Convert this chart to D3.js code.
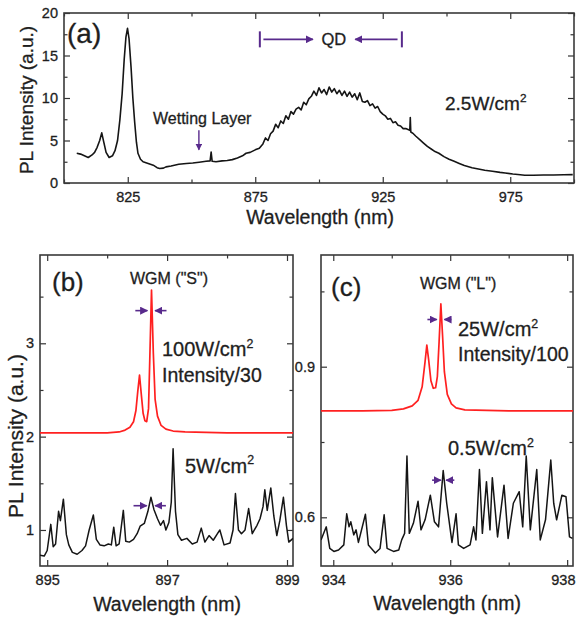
<!DOCTYPE html>
<html>
<head>
<meta charset="utf-8">
<script src="https://cdn.jsdelivr.net/npm/d3@7"></script>
<style>
body { margin: 0; background: #fff; }
text { font-family: "Liberation Sans", Arial, sans-serif; fill: #1e1e1e; stroke: #1e1e1e; stroke-width: 0.3; }
.ax text { font-size: 14.5px; font-family: "Liberation Sans", Arial, sans-serif; fill: #1e1e1e; stroke: #1e1e1e; stroke-width: 0.3; }
.ax line { stroke: #333; stroke-width: 1.2; }
.ax path { display: none; }
</style>
</head>
<body>
<svg id="chart" width="576" height="618"></svg>
<script>
// ---- panel (a): broad PL spectrum at 2.5 W/cm2
var aWave = [805,806.5,808,809.5,811,812,813,814,814.8,815.6,816.5,817.7,819,820,821,821.9,822.8,823.6,824.3,824.9,825.5,826.3,827,827.7,828.4,829,830,831,833,835,836.5,837.5,839,840,842,845,848,850.5,853,855.7,857.3,857.7,858.1,859.6,862,864,866,868,870,871.4,873,875,876.6,878,879,880,881,882,883,884,885,886,887,888,889,890,891,892,893,894,895,896,897,898,899,900,901,902,903,904,905,906,907,908,909,910,911,912,913,914,915,916,917,918,919,920,921,922,923,924,925,926,927,928,929,930,931,932,933,934,935.6,935.8,936,937,938,939.5,941,942.5,944,945.5,947,949,951,953,955,957,960,962.5,965,968,971,973,976,978,980.7,984,988,992,996,999.5];
var aInt = [3.5,3.4,3.2,3.0,3.3,3.6,4.2,5.0,5.9,4.8,3.6,3.0,3.2,3.8,5.0,7.4,10.5,14.5,17.2,18.2,17.0,13.6,10.0,7.2,4.8,3.5,2.8,2.5,2.3,2.1,1.8,1.7,1.75,1.9,2.0,2.2,2.3,2.35,2.45,2.55,2.6,3.65,2.55,2.5,2.6,2.65,2.75,2.95,3.2,3.5,3.6,3.9,4.1,4.6,5.3,5.0,5.8,6.1,6.9,6.5,7.3,7.0,7.9,7.5,8.4,8.1,8.7,8.9,8.6,9.5,9.2,9.9,10.2,10.8,10.3,11.2,10.6,11.0,10.4,11.3,10.7,11.1,10.5,10.9,10.3,10.8,10.2,10.7,10.1,10.5,9.8,10.6,9.6,9.5,9.7,9.1,9.3,8.8,9.0,8.4,8.1,7.9,7.5,7.6,7.1,7.2,6.8,6.7,6.4,6.4,6.2,7.7,6.0,5.8,5.5,5.1,4.7,4.3,4.0,3.7,3.5,3.1,2.8,2.55,2.3,2.05,1.8,1.65,1.5,1.38,1.25,1.18,1.05,1.0,0.92,0.92,0.94,0.95,0.97,0.98];
var aXTicks = [825, 875, 925, 975];
var aXMinor = [800, 850, 900, 950, 1000];
var aYTicks = [0, 5, 10, 15, 20];
var aYMinor = [2.5, 7.5, 12.5, 17.5];

// ---- panel (b): WGM "S"
var bRedWave = [894.88,895.5,896.0,896.2,896.3,896.38,896.44,896.48,896.51,896.54,896.57,896.6,896.63,896.66,896.69,896.71,896.74,896.77,896.8,896.84,896.9,896.98,897.1,897.3,898,899.1];
var bRedInt = [2.04,2.04,2.04,2.05,2.07,2.1,2.16,2.28,2.48,2.66,2.45,2.25,2.17,2.16,2.3,2.8,3.57,2.9,2.4,2.22,2.12,2.08,2.06,2.05,2.04,2.04];
var bBlackWave = [894.88,894.95,895.0,895.06,895.1,895.14,895.19,895.22,895.27,895.32,895.36,895.42,895.5,895.58,895.64,895.7,895.77,895.82,895.88,895.95,896.02,896.07,896.11,896.15,896.2,896.27,896.31,896.37,896.44,896.5,896.55,896.62,896.68,896.73,896.78,896.84,896.89,896.94,896.98,897.03,897.07,897.1,897.14,897.18,897.24,897.33,897.42,897.5,897.57,897.63,897.7,897.77,897.84,897.88,897.95,898.05,898.1,898.14,898.19,898.24,898.3,898.36,898.42,898.5,898.55,898.6,898.63,898.67,898.73,898.78,898.83,898.88,898.94,898.99,899.03,899.1];
var bBlackInt = [0.73,0.72,0.78,1.06,0.82,0.85,1.2,1.1,1.33,0.95,0.84,0.76,0.74,0.78,0.83,1.0,1.16,0.9,0.84,0.83,0.85,0.84,1.03,0.83,0.85,1.21,0.88,0.87,0.9,0.96,1.04,1.07,1.2,1.35,1.22,1.12,1.05,1.1,1.0,1.08,1.3,1.87,1.2,0.95,0.89,0.91,0.85,0.87,1.02,0.87,0.94,0.89,0.96,1.0,0.84,0.86,1.0,1.39,1.0,0.96,1.0,1.23,0.96,1.05,1.12,1.25,1.43,1.21,1.45,1.15,0.94,1.1,1.35,1.05,0.87,0.91];
var bXTicks = [895, 897, 899];
var bXMinor = [896, 898];
var bYTicks = [1, 2, 3];
var bYMinor = [1.5, 2.5, 3.5];

// ---- panel (c): WGM "L"
var cRedWave = [933.79,934.5,935,935.2,935.35,935.45,935.52,935.57,935.6,935.63,935.67,935.71,935.75,935.78,935.81,935.84,935.87,935.9,935.95,936.02,936.1,936.25,937,938.1];
var cRedInt = [0.812,0.812,0.813,0.816,0.822,0.833,0.86,0.91,0.943,0.915,0.872,0.857,0.858,0.88,0.95,1.025,0.96,0.89,0.845,0.826,0.818,0.814,0.812,0.812];
var cBlackWave = [933.79,933.88,933.94,934.01,934.09,934.18,934.23,934.27,934.3,934.35,934.39,934.43,934.55,934.6,934.72,934.8,934.87,934.92,935.03,935.12,935.17,935.22,935.26,935.3,935.37,935.45,935.5,935.57,935.66,935.73,935.8,935.88,935.94,936.03,936.1,936.14,936.23,936.34,936.4,936.44,936.5,936.55,936.62,936.68,936.72,936.81,936.92,936.99,937.08,937.18,937.24,937.3,937.37,937.48,937.54,937.63,937.72,937.77,937.82,937.91,937.98,938.04,938.09];
var cBlackInt = [0.555,0.581,0.538,0.532,0.535,0.545,0.607,0.581,0.591,0.565,0.575,0.55,0.606,0.545,0.529,0.538,0.605,0.538,0.532,0.535,0.555,0.568,0.722,0.568,0.588,0.632,0.575,0.595,0.644,0.591,0.581,0.693,0.628,0.55,0.607,0.545,0.538,0.545,0.581,0.555,0.695,0.568,0.671,0.575,0.679,0.561,0.664,0.558,0.628,0.651,0.581,0.722,0.575,0.695,0.555,0.595,0.714,0.628,0.595,0.644,0.641,0.561,0.558];
var cXTicks = [934, 936, 938];
var cXMinor = [935, 937];
var cYTicks = [0.6, 0.9];
var cYMinor = [0.75, 1.05];

var purple = "#582a8c";
var svg = d3.select("#chart");

svg.append("defs").append("marker")
  .attr("id", "head").attr("viewBox", "0 0 10 10")
  .attr("refX", 9).attr("refY", 5)
  .attr("markerWidth", 5).attr("markerHeight", 5)
  .attr("orient", "auto-start-reverse")
  .append("path").attr("d", "M0,0L10,5L0,10z").attr("fill", purple);

function panel(id, box, xd, yd, xt, xm, yt, ym, yfmt) {
  var w = box.r - box.l, h = box.b - box.t;
  var g = svg.append("g").attr("transform", "translate(" + box.l + "," + box.t + ")");
  var x = d3.scaleLinear().domain(xd).range([0, w]);
  var y = d3.scaleLinear().domain(yd).range([h, 0]);
  g.append("clipPath").attr("id", "clip" + id).append("rect").attr("width", w).attr("height", h);

  var fx = d3.format("d");
  var bottom = g.append("g").attr("class", "ax").attr("transform", "translate(0," + h + ")")
    .call(d3.axisBottom(x).tickValues(xt).tickSize(-6).tickPadding(9).tickFormat(fx));
  g.append("g").attr("class", "ax").attr("transform", "translate(0," + h + ")")
    .call(d3.axisBottom(x).tickValues(xm).tickSize(-3.5).tickFormat(""));
  g.append("g").attr("class", "ax")
    .call(d3.axisTop(x).tickValues(xt).tickSize(-6).tickFormat(""));
  g.append("g").attr("class", "ax")
    .call(d3.axisTop(x).tickValues(xm).tickSize(-3.5).tickFormat(""));
  g.append("g").attr("class", "ax")
    .call(d3.axisLeft(y).tickValues(yt).tickSize(-6).tickPadding(6).tickFormat(yfmt));
  g.append("g").attr("class", "ax")
    .call(d3.axisLeft(y).tickValues(ym).tickSize(-3.5).tickFormat(""));
  g.append("g").attr("class", "ax").attr("transform", "translate(" + w + ",0)")
    .call(d3.axisRight(y).tickValues(yt).tickSize(-6).tickFormat(""));
  g.append("g").attr("class", "ax").attr("transform", "translate(" + w + ",0)")
    .call(d3.axisRight(y).tickValues(ym).tickSize(-3.5).tickFormat(""));

  g.append("rect").attr("width", w).attr("height", h)
    .attr("fill", "none").attr("stroke", "#3a3a3a").attr("stroke-width", 1.6);
  return { g: g, x: x, y: y, w: w, h: h, bottom: bottom };
}

function trace(p, id, wave, inten, color, sw) {
  var line = d3.line().x(function(d) { return p.x(d[0]); }).y(function(d) { return p.y(d[1]); });
  p.g.append("path").datum(d3.zip(wave, inten))
    .attr("clip-path", "url(#clip" + id + ")")
    .attr("fill", "none").attr("stroke", color).attr("stroke-width", sw)
    .attr("stroke-linejoin", "round")
    .attr("d", line);
}

function arrow(p, x0, x1, yv) {
  p.g.append("line")
    .attr("x1", p.x(x0)).attr("x2", p.x(x1)).attr("y1", p.y(yv)).attr("y2", p.y(yv))
    .attr("stroke", purple).attr("stroke-width", 1.6).attr("marker-end", "url(#head)");
}

function unit(g, x, y, pre, size) {
  var t = g.append("text").attr("x", x).attr("y", y).style("font-size", size + "px");
  t.append("tspan").text(pre + "W/cm");
  t.append("tspan").attr("dy", -size * 0.42).style("font-size", (size * 0.62) + "px").text("2");
  return t;
}

function ylabel(x, y, size) {
  svg.append("text").attr("transform", "translate(" + x + "," + y + ")rotate(-90)")
    .attr("text-anchor", "middle").style("font-size", size + "px").text("PL Intensity (a.u.)");
}

function xlabel(x, y) {
  svg.append("text").attr("x", x).attr("y", y)
    .attr("text-anchor", "middle").style("font-size", "19.5px").text("Wavelength (nm)");
}

// ---------- (a)
var pa = panel("a", { l: 64, t: 13, r: 574, b: 183 }, [800, 1000], [0, 20],
  aXTicks, aXMinor, aYTicks, aYMinor, d3.format("d"));
trace(pa, "a", aWave, aInt, "#151515", 1.6);
svg.append("text").attr("x", 67).attr("y", 43).style("font-size", "28px").text("(a)");
svg.append("text").attr("x", 153).attr("y", 124).style("font-size", "16px").text("Wetting Layer");
unit(svg, 445, 110, "2.5", 19);
// wetting layer arrow
pa.g.append("line").attr("x1", pa.x(852.9)).attr("x2", pa.x(852.9))
  .attr("y1", pa.y(6.2)).attr("y2", pa.y(3.9))
  .attr("stroke", purple).attr("stroke-width", 1.4).attr("marker-end", "url(#head)");
// QD range
[876.8, 932.5].forEach(function(v) {
  pa.g.append("line").attr("x1", pa.x(v)).attr("x2", pa.x(v))
    .attr("y1", pa.y(16.9) - 8).attr("y2", pa.y(16.9) + 8)
    .attr("stroke", purple).attr("stroke-width", 2);
});
arrow(pa, 878.2, 897.6, 16.9);
arrow(pa, 930.8, 914.2, 16.9);
pa.g.append("text").attr("x", pa.x(905.8)).attr("y", pa.y(16.9) + 6)
  .attr("text-anchor", "middle").style("font-size", "16.5px").text("QD");
ylabel(33, 100, 19);
xlabel(320, 224);

// ---------- (b)
var pb = panel("b", { l: 40, t: 255, r: 293, b: 566 }, [894.88, 899.1], [0.614, 3.946],
  bXTicks, bXMinor, bYTicks, bYMinor, d3.format("d"));
trace(pb, "b", bBlackWave, bBlackInt, "#151515", 1.5);
trace(pb, "b", bRedWave, bRedInt, "#ff2020", 1.7);
svg.append("text").attr("x", 52).attr("y", 291).style("font-size", "26px").text("(b)");
svg.append("text").attr("x", 130).attr("y", 284).style("font-size", "16px").text("WGM (\"S\")");
unit(svg, 162, 356, "100", 20);
svg.append("text").attr("x", 162).attr("y", 381.5).style("font-size", "19.5px").text("Intensity/30");
unit(svg, 185, 472.5, "5", 20);
arrow(pb, 896.47, 896.67, 3.35);
arrow(pb, 896.99, 896.8, 3.35);
arrow(pb, 896.44, 896.66, 1.26);
arrow(pb, 896.98, 896.8, 1.26);
ylabel(23, 436, 21);
xlabel(167, 611);

// ---------- (c)
var pc = panel("c", { l: 321, t: 255, r: 573, b: 566 }, [933.79, 938.1], [0.503, 1.1225],
  cXTicks, cXMinor, cYTicks, cYMinor, d3.format(".1f"));
// keep the last tick label inside the picture
pc.bottom.selectAll(".tick text").filter(function(d) { return d === 938; })
  .attr("text-anchor", "end").attr("x", 575 - 321 - pc.x(938));
trace(pc, "c", cBlackWave, cBlackInt, "#151515", 1.5);
trace(pc, "c", cRedWave, cRedInt, "#ff2020", 1.7);
svg.append("text").attr("x", 331).attr("y", 296).style("font-size", "26px").text("(c)");
svg.append("text").attr("x", 420).attr("y", 289).style("font-size", "16px").text("WGM (\"L\")");
unit(svg, 458, 336, "25", 20);
svg.append("text").attr("x", 458).attr("y", 360.5).style("font-size", "19.5px").text("Intensity/100");
unit(svg, 448, 455, "0.5", 20);
arrow(pc, 935.61, 935.77, 0.994);
arrow(pc, 936.02, 935.9, 0.994);
arrow(pc, 935.69, 935.84, 0.674);
arrow(pc, 936.07, 935.93, 0.674);
xlabel(447, 610);
</script>
</body>
</html>
